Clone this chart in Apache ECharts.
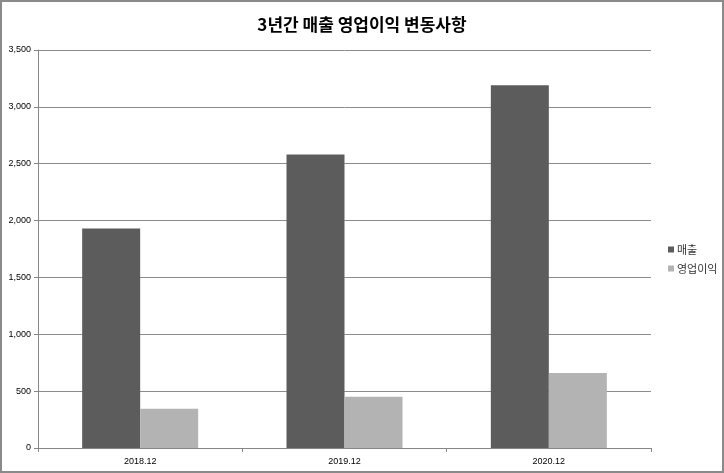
<!DOCTYPE html>
<html>
<head>
<meta charset="utf-8">
<script src="https://cdn.jsdelivr.net/npm/echarts@6/dist/echarts.min.js"></script>
<style>
html,body{margin:0;padding:0;background:#fff;}
#wrap{position:absolute;left:0;top:0;width:720px;height:469px;border:2px solid #8a8a8a;}
#chart{width:720px;height:469px;}
</style>
</head>
<body>
<div id="wrap"><div id="chart"></div></div>
<script>
const titleText = '3년간 매출 영업이익 변동사항';
const categories = ['2018.12', '2019.12', '2020.12'];
const seriesNames = ['매출', '영업이익'];
const sales = [1930, 2580, 3190];
const operatingProfit = [345, 450, 660];
const yTicks = [0, 500, 1000, 1500, 2000, 2500, 3000, 3500];

const chart = echarts.init(document.getElementById('chart'));
const axisFont = {fontFamily: '"Liberation Sans", "DejaVu Sans", sans-serif', fontSize: 9, color: '#000'};
chart.setOption({
  animation: false,
  backgroundColor: '#fff',
  title: {
    text: titleText, left: 'center', top: 9,
    textStyle: {fontFamily: '"Noto Sans CJK KR", sans-serif', fontWeight: 'bold', fontSize: 17, color: '#000'}
  },
  legend: {
    orient: 'vertical', left: 661, top: 237, itemGap: 8,
    itemWidth: 6, itemHeight: 6, icon: 'rect',
    textStyle: {fontFamily: '"Noto Sans CJK KR", sans-serif', fontSize: 11, color: '#333', padding: [0, 0, 0, -2]},
    data: seriesNames
  },
  grid: {left: 36, right: 71, top: 48, bottom: 23, containLabel: false},
  xAxis: {
    type: 'category', data: categories,
    axisLine: {lineStyle: {color: '#868686', width: 1}},
    axisTick: {show: true, length: 4, lineStyle: {color: '#868686'}},
    axisLabel: Object.assign({margin: 9}, axisFont)
  },
  yAxis: {
    type: 'value', min: yTicks[0], max: yTicks[yTicks.length - 1], interval: 500,
    axisLine: {show: true, lineStyle: {color: '#868686', width: 1}},
    axisTick: {show: true, length: 4, lineStyle: {color: '#868686'}},
    splitLine: {lineStyle: {color: '#8c8c8c', width: 1}},
    axisLabel: Object.assign({margin: 7, formatter: v => v.toLocaleString('en-US')}, axisFont)
  },
  series: [
    {name: seriesNames[0], type: 'bar', data: sales, barWidth: 58, barGap: '0%',
     itemStyle: {color: '#5c5c5c'}},
    {name: seriesNames[1], type: 'bar', data: operatingProfit, barWidth: 58, barGap: '0%',
     itemStyle: {color: '#b3b3b3'}}
  ]
});
</script>
</body>
</html>
